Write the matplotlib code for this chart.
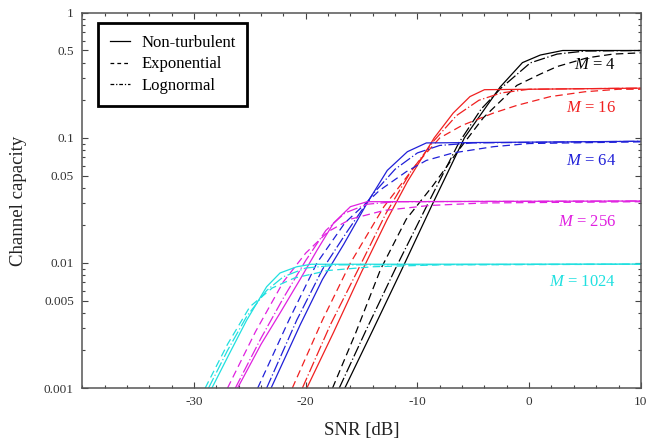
import matplotlib
matplotlib.use("Agg")
import matplotlib.pyplot as plt
from matplotlib.lines import Line2D
from matplotlib.ticker import MultipleLocator, LogLocator, FixedLocator, NullFormatter

plt.rcParams.update({
    "font.family": "Liberation Serif",
    "mathtext.fontset": "custom",
    "mathtext.rm": "Liberation Serif",
    "mathtext.it": "Liberation Serif:italic",
    "xtick.direction": "in",
    "ytick.direction": "in",
    "xtick.top": True,
    "ytick.right": True,
})

# ---- channel capacity vs SNR, read per modulation order M ----
# M = 4
m4_solid_x = [-16.5, -14.0, -11.5, -8.7, -5.8, -4.2, -2.6, -0.6, 1.0, 3.0, 10]
m4_solid_y = [0.001, 0.0029, 0.0085, 0.029, 0.1, 0.16, 0.255, 0.40, 0.46, 0.50, 0.50]
m4_exp_x = [-17.6, -15.5, -13.3, -11.0, -8.6, -6.5, -4.1, -1.1, 1.0, 2.5, 5.2, 7.5, 10]
m4_exp_y = [0.001, 0.0028, 0.0089, 0.0224, 0.0417, 0.0759, 0.145, 0.263, 0.324, 0.372, 0.437, 0.468, 0.479]
m4_logn_x = [-17.0, -14.6, -12.0, -9.2, -6.3, -4.3, -2.5, 0.1, 2.5, 5.0, 10]
m4_logn_y = [0.001, 0.0029, 0.0089, 0.0282, 0.0912, 0.170, 0.251, 0.398, 0.468, 0.495, 0.50]

# M = 16
m16_solid_x = [-19.9, -17.5, -15.0, -12.7, -10.9, -8.5, -6.8, -5.3, -4.0, 10]
m16_solid_y = [0.001, 0.0028, 0.0085, 0.0224, 0.0447, 0.1, 0.158, 0.214, 0.243, 0.25]
m16_exp_x = [-21.2, -18.5, -16.0, -13.0, -10.0, -8.0, -6.0, -3.2, -1.1, 1.9, 5.0, 8.0, 10]
m16_exp_y = [0.001, 0.0035, 0.01, 0.0282, 0.0631, 0.1, 0.126, 0.158, 0.182, 0.214, 0.234, 0.245, 0.245]
m16_logn_x = [-20.3, -17.8, -15.3, -12.8, -10.6, -8.5, -6.5, -4.5, -2.5, 0.0, 10]
m16_logn_y = [0.001, 0.0032, 0.0089, 0.0251, 0.0537, 0.0955, 0.151, 0.20, 0.229, 0.245, 0.25]

# M = 64
m64_solid_x = [-23.1, -20.5, -18.5, -16.6, -14.5, -12.7, -10.9, -9.2, 10]
m64_solid_y = [0.001, 0.0032, 0.0074, 0.0141, 0.0302, 0.055, 0.0776, 0.0912, 0.094]
m64_exp_x = [-24.3, -21.5, -19.0, -16.5, -13.4, -11.0, -9.2, -6.8, -3.2, 0.0, 10]
m64_exp_y = [0.001, 0.0035, 0.01, 0.0209, 0.038, 0.0537, 0.0661, 0.0759, 0.0851, 0.0902, 0.093]
m64_logn_x = [-23.5, -20.8, -18.5, -16.3, -14.0, -12.0, -10.0, -8.0, -5.0, 10]
m64_logn_y = [0.001, 0.0035, 0.0089, 0.0178, 0.0355, 0.0562, 0.0759, 0.0871, 0.0912, 0.094]

# M = 256
m256_solid_x = [-26.1, -24.0, -22.3, -20.5, -19.0, -17.5, -16.0, -14.5, 10]
m256_solid_y = [0.001, 0.00224, 0.00398, 0.00741, 0.0126, 0.0209, 0.0282, 0.0309, 0.0313]
m256_exp_x = [-27.0, -24.5, -22.0, -20.0, -18.0, -16.0, -13.0, -9.0, -4.0, 10]
m256_exp_y = [0.001, 0.00282, 0.00708, 0.012, 0.0178, 0.0224, 0.0263, 0.0288, 0.0302, 0.0309]
m256_logn_x = [-26.3, -24.0, -22.0, -20.0, -18.2, -16.5, -14.5, -12.0, 10]
m256_logn_y = [0.001, 0.00251, 0.00525, 0.01047, 0.0182, 0.0251, 0.0295, 0.0309, 0.0313]

# M = 1024
m1024_solid_x = [-28.4, -26.8, -25.3, -23.5, -22.3, -20.8, -19.5, 10]
m1024_solid_y = [0.001, 0.00191, 0.00347, 0.00646, 0.00832, 0.00933, 0.00977, 0.0098]
m1024_exp_x = [-29.0, -27.0, -25.0, -23.0, -21.0, -18.0, -14.0, -8.0, 10]
m1024_exp_y = [0.001, 0.00224, 0.00447, 0.00631, 0.00759, 0.00871, 0.00933, 0.00966, 0.00977]
m1024_logn_x = [-28.7, -27.0, -25.3, -23.5, -22.0, -20.0, -17.0, 10]
m1024_logn_y = [0.001, 0.002, 0.00372, 0.00603, 0.00776, 0.00912, 0.00966, 0.0098]

groups = [
    ("4", "black", 0.38,
     (m4_solid_x, m4_solid_y), (m4_exp_x, m4_exp_y), (m4_logn_x, m4_logn_y)),
    ("16", "#f02020", 0.173,
     (m16_solid_x, m16_solid_y), (m16_exp_x, m16_exp_y), (m16_logn_x, m16_logn_y)),
    ("64", "#2020d8", 0.065,
     (m64_solid_x, m64_solid_y), (m64_exp_x, m64_exp_y), (m64_logn_x, m64_logn_y)),
    ("256", "#e020e0", 0.0211,
     (m256_solid_x, m256_solid_y), (m256_exp_x, m256_exp_y), (m256_logn_x, m256_logn_y)),
    ("1024", "#20e0e0", 0.0070,
     (m1024_solid_x, m1024_solid_y), (m1024_exp_x, m1024_exp_y), (m1024_logn_x, m1024_logn_y)),
]

DASH_EXP = (0, (6, 3.5))
DASH_LOGN = (0, (9, 2, 1, 2))

fig = plt.figure(figsize=(6.48, 4.43), dpi=100)
ax = fig.add_axes([0.127, 0.124, 0.862, 0.847])

for m, color, label_y, solid, exp_, logn in groups:
    ax.plot(*solid, color=color, lw=0.9, ls="-")
    ax.plot(*exp_, color=color, lw=0.9, ls=DASH_EXP)
    ax.plot(*logn, color=color, lw=0.9, ls=DASH_LOGN)
    ax.text(7.8, label_y, f"$M$ = {m}", color=color, fontsize=12,
            ha="right", va="center")

ax.set_xlim(-40, 10)
ax.set_ylim(0.001, 1)
ax.set_yscale("log")

ax.xaxis.set_major_locator(FixedLocator([-30, -20, -10, 0, 10]))
ax.xaxis.set_minor_locator(MultipleLocator(2))
ax.yaxis.set_major_locator(FixedLocator([0.001, 0.005, 0.01, 0.05, 0.1, 0.5, 1]))
ax.yaxis.set_minor_locator(LogLocator(base=10, subs=range(2, 10)))
ax.yaxis.set_minor_formatter(NullFormatter())
ax.set_yticklabels(["0.001", "0.005", "0.01", "0.05", "0.1", "0.5", "1"])
ax.set_xticklabels(["-30", "-20", "-10", "0", "10"])

ax.tick_params(which="major", length=4, width=0.8, labelsize=9.5,
               labelcolor="#333333", color="#444444", pad=6)
ax.tick_params(which="minor", length=2.5, width=0.8, color="#444444")
for s in ax.spines.values():
    s.set_linewidth(1.1)
    s.set_color("#555555")

ax.set_xlabel("SNR [dB]", fontsize=13.5, color="#222222", labelpad=10)
ax.set_ylabel("Channel capacity", fontsize=13.5, color="#222222", labelpad=12)

handles = [
    Line2D([], [], color="black", lw=0.9, ls="-"),
    Line2D([], [], color="black", lw=0.9, ls=(0, (3, 2.5))),
    Line2D([], [], color="black", lw=0.9, ls=(0, (3, 1.5, 1, 1.5))),
]
leg = ax.legend(handles, ["Non-turbulent", "Exponential", "Lognormal"],
                loc="upper left", bbox_to_anchor=(0.028, 0.973),
                fontsize=12, handlelength=1.2, handletextpad=0.7,
                labelspacing=0.35, borderpad=0.7, fancybox=False,
                framealpha=1, borderaxespad=0)
leg.get_frame().set_edgecolor("black")
leg.get_frame().set_linewidth(2)

fig.savefig("out.png", dpi=100)
